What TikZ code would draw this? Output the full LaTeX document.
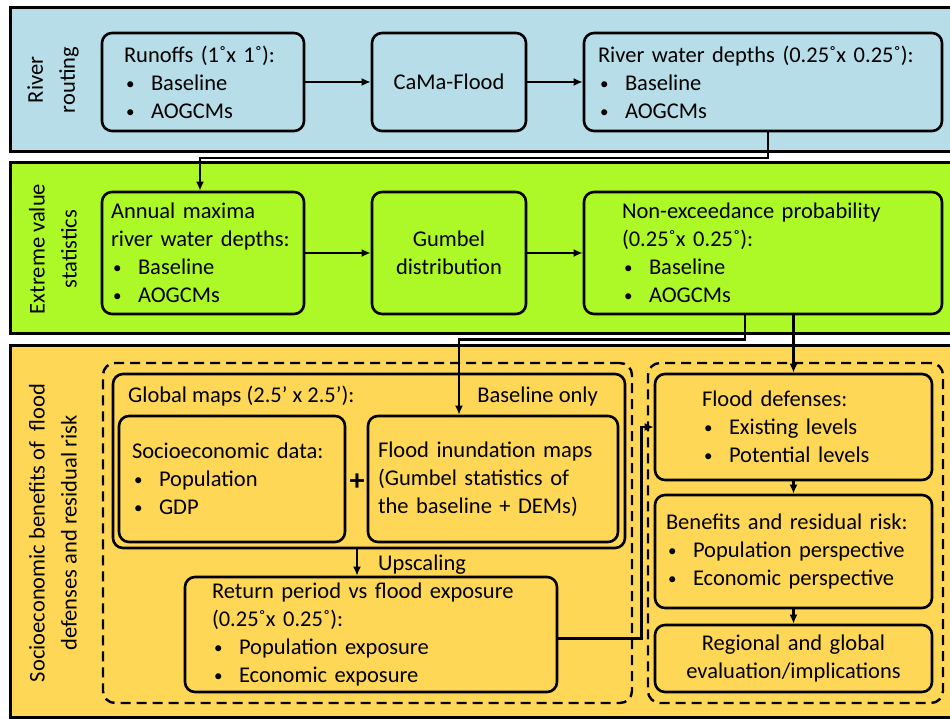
\documentclass[tikz,border=0pt]{standalone}
\usepackage{fontspec}
\setmainfont{Carlito}
\usetikzlibrary{arrows.meta}
\definecolor{routingblue}{HTML}{B7DDE8}
\definecolor{statsgreen}{HTML}{ADF927}
\definecolor{socioyellow}{HTML}{FFD757}
\newcommand{\fs}{\fontsize{22.5}{28}\selectfont}
\newcommand{\bpt}{\makebox[27pt][l]{\hspace{2pt}\raisebox{1pt}{\fontsize{17}{17}\selectfont\textbullet}}}
\tikzset{
  panel/.style={draw, line width=3pt, minimum width=942pt, inner sep=0pt},
  blk/.style={draw, line width=2.6pt, rounded corners=10pt, font=\fs, inner sep=0pt, align=left},
  pad/.style={execute at begin node={\leftskip=#1\relax}},
  grp/.style={draw, line width=2.4pt, dash pattern=on 10pt off 6pt, rounded corners=12pt, inner sep=0pt},
  conn/.style={line width=2.4pt, ->},
  lbl/.style={font=\fs, inner sep=0pt},
  side/.style={font=\fontsize{22.5}{32}\selectfont, align=center, rotate=90, inner sep=0pt},
}
\begin{document}
\begin{tikzpicture}[x=1pt,y=-1pt,>={Latex[length=9pt,width=8pt]}]
\useasboundingbox (0,0) rectangle (950,719);
\clip (0,0) rectangle (950,719);
%% panels
\node (routing) at (481,80) [panel, fill=routingblue, minimum height=144pt] {};
\node (stats) at (481,248) [panel, fill=statsgreen, minimum height=170pt] {};
\node (socio) at (481,531) [panel, fill=socioyellow, minimum height=372pt] {};
\node (lbl_routing) at (53,80) [side] {River\\routing};
\node (lbl_stats) at (53,249) [side] {Extreme value\\statistics};
\node (lbl_socio) at (53,533) [side] {Socioeconomic benefits of\ \ flood\\defenses and residual risk};
%% river routing
\node (runoffs) at (203,82) [blk, pad=22pt, text width=202pt, minimum height=98pt] {Runoffs (1˚x 1˚):\\\bpt Baseline\\\bpt AOGCMs};
\node (cama) at (449,82) [blk, align=center, text width=154pt, minimum height=98pt] {CaMa-Flood};
\node (rwd) at (763,82) [blk, pad=14pt, text width=358pt, minimum height=98pt] {River water depths (0.25˚x 0.25˚):\\\bpt Baseline\\\bpt AOGCMs};
%% extreme value statistics
\node (amax) at (203,253) [blk, pad=9pt, text width=202pt, minimum height=122pt] {Annual maxima\\river water depths:\\\bpt Baseline\\\bpt AOGCMs};
\node (gumbel) at (449,253) [blk, align=center, text width=154pt, minimum height=122pt] {Gumbel\\distribution};
\node (nep) at (763,253) [blk, pad=38pt, text width=358pt, minimum height=122pt] {Non-exceedance probability\\(0.25˚x 0.25˚):\\\bpt Baseline\\\bpt AOGCMs};
%% socioeconomic benefits
\node (grp_exp) at (367.5,533) [grp, minimum width=529pt, minimum height=340pt] {};
\node (grp_ben) at (795.5,533) [grp, minimum width=295pt, minimum height=340pt] {};
\node (gm) at (369,461) [blk, minimum width=512pt, minimum height=174pt] {};
\node (gm_lbl) at (128,402) [lbl, anchor=base west] {Global maps (2.5’ x 2.5’):};
\node (bonly) at (598,402) [lbl, anchor=base east] {Baseline only};
\node (sed) at (232,479) [blk, pad=13pt, text width=226pt, minimum height=126pt] {Socioeconomic data:\\\bpt Population\\\bpt GDP};
\node (plus) at (357,482) [inner sep=0pt, font=\fontsize{30}{30}\selectfont\bfseries] {+};
\node (fim) at (493,479) [blk, pad=10pt, text width=250pt, minimum height=126pt] {Flood inundation maps\\(Gumbel statistics of\\the baseline + DEMs)};
\node (upsc) at (378,570) [lbl, anchor=base west] {Upscaling};
\node (rp) at (371,634.5) [blk, pad=27pt, text width=372pt, minimum height=115pt] {Return period vs flood exposure\\(0.25˚x 0.25˚):\\\bpt Population exposure\\\bpt Economic exposure};
\node (fd) at (793.5,427) [blk, pad=47pt, text width=277pt, minimum height=106pt] {Flood defenses:\\\bpt Existing levels\\\bpt Potential levels};
\node (bnr) at (793.5,551.5) [blk, pad=11pt, text width=277pt, minimum height=113pt] {Benefits and residual risk:\\\bpt Population perspective\\\bpt Economic perspective};
\node (reg) at (793.5,658.5) [blk, align=center, text width=277pt, minimum height=67pt] {Regional and global\\evaluation/implications};
%% connectors
\draw [conn] (runoffs) -- (cama);
\draw [conn] (cama) -- (rwd);
\draw [conn] (amax) -- (gumbel);
\draw [conn] (gumbel) -- (nep);
\draw [conn] ([xshift=5pt]rwd.south) -- ++(0,26) -| ([xshift=-3pt]amax.north);
\draw [conn] ([xshift=-18pt]nep.south) -- ++(0,24) -| ([xshift=-34pt]fim.north);
\draw [conn] (nep.south -| fd.north) -- (fd.north);
\draw [conn] (gm.south -| plus) -- (rp.north -| plus);
\draw [conn] ([yshift=-4pt]rp.east) -- ++(83,0) |- (fd.west);
\draw [conn] (fd) -- (bnr);
\draw [conn] (bnr) -- (reg);
%
\end{tikzpicture}
\end{document}
